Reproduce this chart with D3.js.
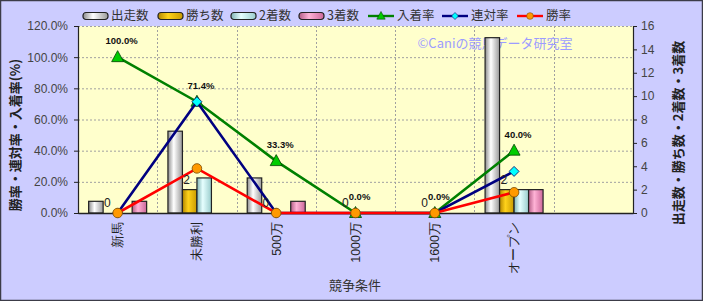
<!DOCTYPE html>
<html lang="ja">
<head>
<meta charset="UTF-8">
<title>競争条件別成績</title>
<script src="https://d3js.org/d3.v7.min.js"></script>
<style>
  body { margin: 0; background: #fff; }
  svg { display: block; font-family: "Noto Sans CJK JP", "Noto Sans", sans-serif; }
</style>
</head>
<body>
<svg id="chart"></svg>
<script>
// data
const categories = ["新馬", "未勝利", "500万", "1000万", "1600万", "オープン", ""];
const starts  = [1, 7, 3, 0, 0, 15];   // 出走数
const wins    = [0, 2, 0, 0, 0, 2];    // 勝ち数
const seconds = [0, 3, 0, 0, 0, 2];    // 2着数
const thirds  = [1, 0, 1, 0, 0, 2];    // 3着数
const placeRate = [100, 71.4, 33.3, 0, 0, 40];  // 入着率
const rentaiRate = [0, 71.4, 0, 0, 0, 26.7];    // 連対率
const winRate = [0, 28.6, 0, 0, 0, 13.3];       // 勝率
const leftTicks = [0, 20, 40, 60, 80, 100, 120];
const rightTicks = [0, 2, 4, 6, 8, 10, 12, 14, 16];

const W = 703, H = 301;
const plotL = 78, plotR = 633, plotT = 26, plotB = 213;

const svg = d3.select("#chart").attr("width", W).attr("height", H);
const defs = svg.append("defs");

svg.append("rect").attr("x", 0.5).attr("y", 0.5).attr("width", W - 1).attr("height", H - 1)
  .attr("fill", "#ccccff").attr("stroke", "#3c3c48").attr("stroke-width", 1.5);

const x = d3.scaleBand().domain(d3.range(categories.length)).range([plotL, plotR]);
const yL = d3.scaleLinear().domain([0, 120]).range([plotB, plotT]);
const yR = d3.scaleLinear().domain([0, 16]).range([plotB, plotT]);

const barSeries = [
  {name: "出走数", values: starts, c0: "#8c8c8c", c1: "#ffffff", c2: "#9a9a9a"},
  {name: "勝ち数", values: wins, c0: "#b38600", c1: "#ffd21a", c2: "#c99a00"},
  {name: "2着数", values: seconds, c0: "#7fb3b3", c1: "#e6ffff", c2: "#99cccc"},
  {name: "3着数", values: thirds, c0: "#b35c86", c1: "#ffb3d6", c2: "#cc6699"}
];
barSeries.forEach((s, i) => {
  const g = defs.append("linearGradient").attr("id", "grad" + i)
    .attr("x1", "0%").attr("x2", "100%").attr("y1", "0%").attr("y2", "0%");
  g.append("stop").attr("offset", "0%").attr("stop-color", s.c0);
  g.append("stop").attr("offset", "40%").attr("stop-color", s.c1);
  g.append("stop").attr("offset", "100%").attr("stop-color", s.c2);
});

// plot area
svg.append("rect").attr("x", plotL).attr("y", plotT).attr("width", plotR - plotL).attr("height", plotB - plotT)
  .attr("fill", "#ffffcc");

// grid
svg.append("g").selectAll("line").data(leftTicks.slice(1)).join("line")
  .attr("x1", plotL).attr("x2", plotR).attr("y1", d => yL(d) + 0.5).attr("y2", d => yL(d) + 0.5)
  .attr("stroke", "#a0a0a0").attr("stroke-dasharray", "2,2");
svg.append("g").selectAll("line").data(d3.range(1, categories.length)).join("line")
  .attr("x1", d => Math.round(x(d)) + 0.5).attr("x2", d => Math.round(x(d)) + 0.5)
  .attr("y1", plotT).attr("y2", plotB)
  .attr("stroke", "#a0a0a0").attr("stroke-dasharray", "2,2");

// watermark
svg.append("text").attr("x", 495).attr("y", 48).attr("text-anchor", "middle")
  .attr("font-size", 13).attr("fill", "#9c9cff").text("©Caniの競馬データ研究室");

// bars
const inner = d3.scaleBand().domain(d3.range(4)).range([0, 58]);
const gBars = svg.append("g");
barSeries.forEach((s, i) => {
  gBars.selectAll(".b" + i).data(s.values.map((v, j) => ({v, j}))).join("rect")
    .attr("class", "b" + i)
    .attr("x", d => x(d.j) + x.bandwidth() / 2 - 29 + inner(i))
    .attr("y", d => yR(d.v))
    .attr("width", inner.bandwidth())
    .attr("height", d => plotB - yR(d.v))
    .attr("fill", "url(#grad" + i + ")")
    .attr("stroke", d => d.v > 0 ? "#222" : "none").attr("stroke-width", 1.2);
});

// axes
const axL = svg.append("g").attr("transform", `translate(${plotL},0)`)
  .call(d3.axisLeft(yL).tickValues(leftTicks).tickSize(4).tickFormat(d => d.toFixed(1) + "%"));
const axR = svg.append("g").attr("transform", `translate(${plotR},0)`)
  .call(d3.axisRight(yR).tickValues(rightTicks).tickSize(4));
[axL, axR].forEach(a => {
  a.select(".domain").attr("stroke", "#222").attr("stroke-width", 1.2);
  a.selectAll(".tick line").attr("stroke", "#222");
  a.selectAll("text").attr("font-size", 12).attr("fill", "#444")
    .attr("font-family", "'Liberation Sans', Arial, sans-serif");
});
axL.selectAll("text").attr("x", -10);
axR.selectAll("text").attr("x", 8);

const axB = svg.append("g").attr("transform", `translate(0,${plotB})`)
  .call(d3.axisBottom(x).tickSize(0).tickFormat(i => categories[i]));
axB.select(".domain").attr("stroke", "#222").attr("stroke-width", 1.5);
axB.selectAll("text")
  .attr("transform", "rotate(-90)").attr("text-anchor", "end")
  .attr("x", -9).attr("y", 0).attr("dy", "0.35em")
  .attr("font-size", 12.5).attr("fill", "#222");

// lines
const lineSeries = [
  {name: "入着率", values: placeRate, stroke: "#008000", fill: "#00cc00", marker: "tri"},
  {name: "連対率", values: rentaiRate, stroke: "#000080", fill: "#00ffff", marker: "dia"},
  {name: "勝率", values: winRate, stroke: "#ff0000", fill: "#ff9900", marker: "circ"}
];
const cx = j => x(j) + x.bandwidth() / 2;
const line = d3.line().x((d, j) => cx(j)).y(d => yL(d));

function drawMarker(g, type, fill) {
  if (type === "tri") g.append("path").attr("d", "M0,-6.5L6,4.5L-6,4.5Z").attr("fill", fill).attr("stroke", "#004000").attr("stroke-width", 0.8);
  else if (type === "dia") g.append("path").attr("d", "M0,-5L5,0L0,5L-5,0Z").attr("fill", fill).attr("stroke", "#000060").attr("stroke-width", 0.8);
  else g.append("circle").attr("r", 4.8).attr("fill", fill).attr("stroke", "#7a4a00").attr("stroke-width", 0.8);
}

lineSeries.forEach(s => {
  svg.append("path").datum(s.values).attr("d", line)
    .attr("fill", "none").attr("stroke", s.stroke).attr("stroke-width", 2.6);
  s.values.forEach((v, j) => {
    drawMarker(svg.append("g").attr("transform", `translate(${cx(j)},${yL(v)})`), s.marker, s.fill);
  });
});

// data labels
svg.append("g").selectAll("text").data(placeRate).join("text")
  .attr("x", (d, j) => cx(j) + 4).attr("y", d => yL(d) - 13)
  .attr("text-anchor", "middle").attr("font-size", 9.5).attr("font-weight", "bold")
  .attr("font-family", "'Liberation Sans', Arial, sans-serif").attr("fill", "#111")
  .text(d => d.toFixed(1) + "%");
svg.append("g").selectAll("text").data(wins).join("text")
  .attr("x", (d, j) => x(j) + x.bandwidth() / 2 - 29 + inner(1) + inner.bandwidth() / 2 - 3)
  .attr("y", d => yR(d) - 6)
  .attr("text-anchor", "middle").attr("font-size", 12)
  .attr("font-family", "'Liberation Sans', Arial, sans-serif").attr("fill", "#222")
  .text(d => d);

// legend
const legend = svg.append("g").attr("transform", "translate(0,16)");
const legendX = [83, 158, 231, 299, 368, 442, 517];
barSeries.forEach((s, i) => {
  const g = legend.append("g").attr("transform", `translate(${legendX[i]},0)`);
  g.append("rect").attr("x", 0).attr("y", -3.5).attr("width", 25).attr("height", 7).attr("rx", 3)
    .attr("fill", "url(#grad" + i + ")").attr("stroke", "#222").attr("stroke-width", 1.2);
  g.append("text").attr("x", 28).attr("y", 0).attr("dy", "0.35em").attr("font-size", 12.5)
    .attr("fill", "#333").text(s.name);
});
lineSeries.forEach((s, i) => {
  const g = legend.append("g").attr("transform", `translate(${legendX[4 + i]},0)`);
  g.append("line").attr("x1", 0).attr("x2", 26).attr("stroke", s.stroke).attr("stroke-width", 2.4);
  const m = g.append("g").attr("transform", "translate(13,0) scale(0.7)");
  drawMarker(m, s.marker, s.fill);
  g.append("text").attr("x", 29).attr("y", 0).attr("dy", "0.35em").attr("font-size", 12.5)
    .attr("fill", "#333").text(s.name);
});

// axis titles
svg.append("text").attr("transform", "translate(20,135) rotate(-90)").attr("text-anchor", "middle")
  .attr("font-size", 13).attr("font-weight", "bold").attr("fill", "#222").text("勝率・連対率・入着率(%)");
svg.append("text").attr("transform", "translate(683,133) rotate(-90)").attr("text-anchor", "middle")
  .attr("font-size", 13).attr("font-weight", "bold").attr("fill", "#222").text("出走数・勝ち数・2着数・3着数");
svg.append("text").attr("x", 355).attr("y", 290).attr("text-anchor", "middle")
  .attr("font-size", 13).attr("fill", "#333").text("競争条件");
</script>
</body>
</html>
